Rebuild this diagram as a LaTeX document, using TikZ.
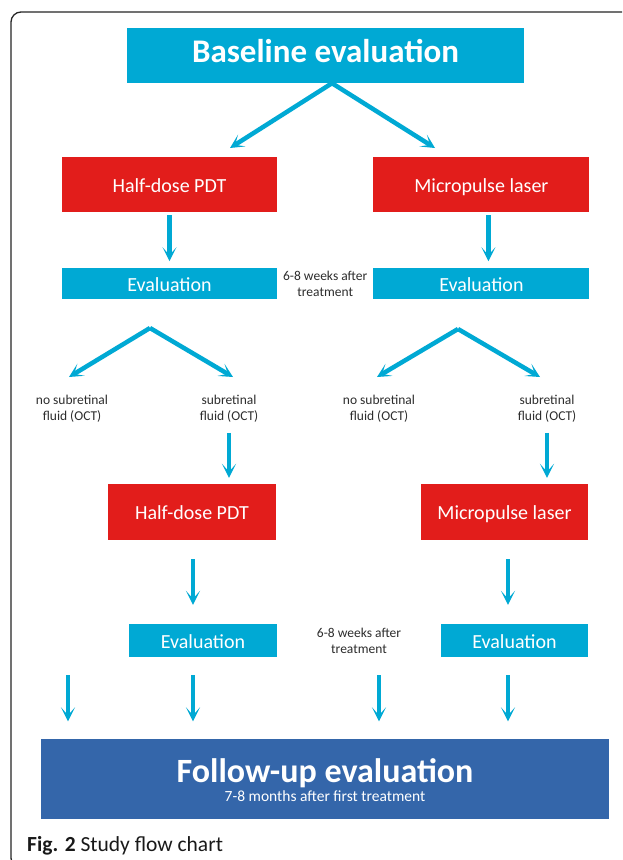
\documentclass[tikz,border=0pt]{standalone}
\usepackage{fontspec}
\setmainfont{Carlito}
\usetikzlibrary{arrows.meta,positioning,calc}

\definecolor{evalcyan}{RGB}{0,169,212}
\definecolor{treatred}{RGB}{226,29,27}
\definecolor{followblue}{RGB}{52,102,170}
\definecolor{notegray}{RGB}{45,45,45}

\begin{document}
\begin{tikzpicture}[x=1pt, y=-1pt, node distance=56pt,
  boxstyle/.style={rectangle, inner sep=0pt, text=white, align=center},
  basebox/.style={boxstyle, fill=evalcyan, font=\fontsize{33}{36}\selectfont\bfseries, text height=22pt, text depth=7.6pt},
  treatbox/.style={boxstyle, fill=treatred, minimum height=55pt, font=\fontsize{20}{24}\selectfont, text height=15pt, text depth=0pt},
  evalbox/.style={boxstyle, fill=evalcyan, font=\fontsize{20}{24}\selectfont, text height=16pt, text depth=0pt},
  notestyle/.style={align=center, text=notegray, inner sep=0pt, font=\fontsize{13.5}{16}\selectfont},
  pil/.style={-{Stealth[length=14pt, width=14pt, inset=8pt]}, line width=4.5pt, draw=evalcyan}]
	 \fill[white] (0,0) rectangle (622,860);
	 \useasboundingbox (0,0) rectangle (622,860);
	 % frame round the figure
	 \begin{scope}
	  \clip (0,0) rectangle (622,860);
	  \draw[line width=1.3pt, rounded corners=10pt, black!85] (660,868) -- (11,868) -- (11,12) -- (660,12);
	 \end{scope}
	 % first treatment
	 \node[basebox, minimum width=397pt, minimum height=55pt] (base) at (325.5,55.5) {Baseline evaluation};
	 \node[treatbox, minimum width=215pt] (pdt1) at (169.5,184.5) {Half-dose PDT};
	 \node[treatbox, minimum width=216pt, right=96pt of pdt1] (mpl1) {Micropulse laser};
	 \node[evalbox, minimum width=215pt, minimum height=31pt, below=of pdt1] (eval1) {Evaluation};
	 \node[evalbox, minimum width=216pt, minimum height=31pt, below=of mpl1] (eval2) {Evaluation};
	 \node[notestyle] (weeks1) at ($(eval1.east)!.5!(eval2.west)$) {6-8 weeks after\\treatment};
	 % OCT outcome
	 \node[notestyle] (nosrf1) at (72,409) {no subretinal\\fluid (OCT)};
	 \node[notestyle] (srf1) at (229,409) {subretinal\\fluid (OCT)};
	 \node[notestyle] (nosrf2) at (379,409) {no subretinal\\fluid (OCT)};
	 \node[notestyle] (srf2) at (547,409) {subretinal\\fluid (OCT)};
	 % second treatment
	 \node[treatbox, minimum width=168pt, minimum height=56pt] (pdt2) at (192,512) {Half-dose PDT};
	 \node[treatbox, minimum width=167pt, minimum height=56pt] (mpl2) at (504.5,512) {Micropulse laser};
	 \node[evalbox, minimum width=148pt, minimum height=33pt] (eval3) at (203,640.5) {Evaluation};
	 \node[evalbox, minimum width=147pt, minimum height=33pt] (eval4) at (514.5,640.5) {Evaluation};
	 \node[notestyle] (weeks2) at ($(eval3.east)!.5!(eval4.west)$) {6-8 weeks after\\treatment};
	 % follow-up
	 \node[boxstyle, fill=followblue, minimum width=568pt, minimum height=80pt, font=\fontsize{34}{36}\selectfont\bfseries, text height=15pt, text depth=7pt] (followup) at (325,778.5) {Follow-up evaluation};
	 \node[anchor=base, inner sep=0pt, text=white, font=\fontsize{15.5}{18}\selectfont] (futime) at ([yshift=-23pt]followup.center) {7-8 months after first treatment};
	 \node[anchor=base west, inner sep=0pt, text=black!90, font=\fontsize{21.5}{24}\selectfont] (caption) at (27,851) {\textbf{Fig. 2} Study flow chart};
	 % arrows
	 \coordinate (top) at ([xshift=6.5pt]base.south);
	 \coordinate (topl) at (230,148);
	 \coordinate (topr) at (435,148);
	 \coordinate (fork1) at (150,328);
	 \coordinate (fork2) at (458,329);
	 \coordinate (fl1) at (69,377);
	 \coordinate (fr1) at (233,377);
	 \coordinate (fl2) at (377,377);
	 \coordinate (fr2) at (540,377);
	 \draw[pil] (top) -- (topl);
	 \draw[pil] (top) -- (topr);
	 \draw[pil, shorten <=3pt, shorten >=7pt] (pdt1.south) -- (eval1.north);
	 \draw[pil, shorten <=3pt, shorten >=7pt] ([xshift=7pt]mpl1.south) -- ([xshift=7pt]eval2.north);
	 \draw[pil] (fork1) -- (fl1);
	 \draw[pil] (fork1) -- (fr1);
	 \draw[pil] (fork2) -- (fl2);
	 \draw[pil] (fork2) -- (fr2);
	 \draw[pil, shorten <=10pt, shorten >=6pt] (srf1.south) -- (srf1.south |- pdt2.north);
	 \draw[pil, shorten <=10pt, shorten >=6pt] (srf2.south) -- (srf2.south |- mpl2.north);
	 \draw[pil, shorten <=19pt, shorten >=19pt] ([xshift=1pt]pdt2.south) -- ([xshift=1pt]pdt2.south |- eval3.north);
	 \draw[pil, shorten <=19pt, shorten >=19pt] ([xshift=3.5pt]mpl2.south) -- ([xshift=3.5pt]mpl2.south |- eval4.north);
	 \foreach \src/\dx in {nosrf1/-4, pdt2/1, nosrf2/0, mpl2/3.5}
	  \draw[pil, shorten >=17pt] ($(\src.south |- eval3.south)+(\dx pt,-18pt)$) -- ($(\src.south |- followup.north)+(\dx pt,0)$);
\end{tikzpicture}
\end{document}
